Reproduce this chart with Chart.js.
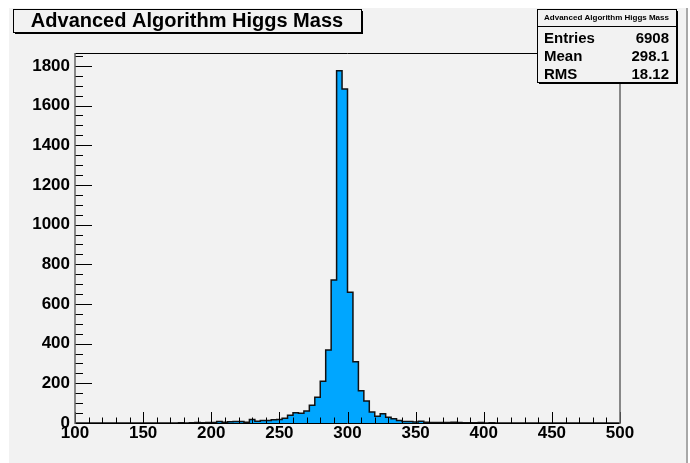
<!DOCTYPE html>
<html>
<head>
<meta charset="utf-8">
<title>Advanced Algorithm Higgs Mass</title>
<script src="https://cdn.jsdelivr.net/npm/chart.js@4/dist/chart.umd.min.js"></script>
<style>
    body { margin: 0; background: #ffffff; }
    #wrap { width: 690px; height: 463px; }
</style>
</head>
<body>
<div id="wrap"><canvas id="higgsChart" width="690" height="463"></canvas></div>
<script>
// histogram: 100 bins of width 4 GeV from 100 to 500
const histTitle = 'Advanced Algorithm Higgs Mass';
const xMin = 100;
const xMax = 500;
const binWidth = 4;
const counts = [
    0, 0, 0, 0, 0, 0, 0, 0, 0, 0,
    0, 0, 0, 0, 0, 0, 0, 0, 0, 0,
    1, 0, 1, 2, 1, 2, 3, 8, 4, 6,
    7, 7, 4, 18, 9, 13, 13, 17, 18, 24,
    39, 52, 49, 60, 90, 130, 210, 368, 721, 1775,
    1683, 659, 309, 163, 111, 56, 34, 47, 29, 21,
    13, 8, 8, 5, 9, 4, 3, 2, 2, 3,
    4, 3, 1, 1, 1, 2, 0, 1, 0, 0,
    0, 0, 0, 0, 0, 0, 0, 0, 0, 0,
    0, 0, 0, 0, 0, 0, 0, 0, 0, 0
];
const xTicks = [100, 150, 200, 250, 300, 350, 400, 450, 500];
const yTicks = [0, 200, 400, 600, 800, 1000, 1200, 1400, 1600, 1800];
const yMax = 1865;
const statNames = ['Entries', 'Mean', 'RMS'];
const statValues = ['6908', '298.1', '18.12'];

const FONT = '"Liberation Sans", Arial, Helvetica, sans-serif';

// step outline: one point per lower bin edge, plus the closing edge
const histPoints = counts.map((c, i) => ({ x: xMin + i * binWidth, y: c }));
histPoints.push({ x: xMax, y: counts[counts.length - 1] });

const padPlugin = {
    id: 'pad',
    beforeDraw(chart) {
        const ctx = chart.ctx;
        ctx.save();
        ctx.fillStyle = '#f2f2f2';
        ctx.fillRect(9, 8, 678, 455);
        ctx.strokeStyle = '#a8a8a8';
        ctx.lineWidth = 2;
        ctx.beginPath();
        ctx.moveTo(687, 8);
        ctx.lineTo(687, 463);
        ctx.stroke();
        ctx.restore();
    }
};

// ROOT style frame with ticks on the inside
const framePlugin = {
    id: 'frame',
    afterDatasetsDraw(chart) {
        const ctx = chart.ctx;
        const a = chart.chartArea;
        const xs = chart.scales.x;
        const ys = chart.scales.y;
        ctx.save();
        ctx.lineWidth = 1;
        ctx.strokeStyle = '#000';
        ctx.beginPath();
        for (let v = xMin; v <= xMax; v += 10) {
            const px = Math.round(xs.getPixelForValue(v)) + 0.5;
            const len = (v % 50 === 0) ? 11 : 5.5;
            ctx.moveTo(px, a.bottom);
            ctx.lineTo(px, a.bottom - len);
        }
        for (let v = 0; v <= 1850; v += 50) {
            const py = Math.round(ys.getPixelForValue(v)) + 0.5;
            const len = (v % 200 === 0) ? 17 : 8;
            ctx.moveTo(a.left, py);
            ctx.lineTo(a.left + len, py);
        }
        ctx.stroke();

        ctx.beginPath();
        ctx.moveTo(a.left, Math.round(a.top) + 0.5);
        ctx.lineTo(a.right, Math.round(a.top) + 0.5);
        ctx.moveTo(a.left, Math.round(a.bottom) + 0.5);
        ctx.lineTo(a.right, Math.round(a.bottom) + 0.5);
        ctx.stroke();

        ctx.strokeStyle = '#666';
        ctx.lineWidth = 1.5;
        ctx.beginPath();
        ctx.moveTo(a.left, a.top);
        ctx.lineTo(a.left, a.bottom + 1);
        ctx.moveTo(a.right, a.top);
        ctx.lineTo(a.right, a.bottom + 1);
        ctx.stroke();
        ctx.restore();
    }
};

function shadowBox(ctx, x, y, w, h) {
    ctx.fillStyle = '#000';
    ctx.fillRect(x + 2, y + 2, w, h);
    ctx.fillStyle = '#f2f2f2';
    ctx.fillRect(x, y, w, h);
    ctx.strokeStyle = '#000';
    ctx.lineWidth = 1;
    ctx.strokeRect(x + 0.5, y + 0.5, w, h);
    ctx.fillStyle = '#000';
}

const boxesPlugin = {
    id: 'boxes',
    afterDraw(chart) {
        const ctx = chart.ctx;
        ctx.save();
        // title box
        shadowBox(ctx, 13, 9, 348, 23);
        ctx.font = 'bold 20px ' + FONT;
        ctx.textAlign = 'center';
        ctx.textBaseline = 'middle';
        ctx.fillText(histTitle, 187, 21.5);

        // stats box
        shadowBox(ctx, 537, 9, 139, 73);
        ctx.beginPath();
        ctx.moveTo(537, 26.5);
        ctx.lineTo(676, 26.5);
        ctx.stroke();
        ctx.font = 'bold 8px ' + FONT;
        ctx.fillText(histTitle, 606.5, 17.5);
        ctx.font = 'bold 15px ' + FONT;
        statNames.forEach((name, i) => {
            const y = 38.5 + i * 18;
            ctx.textAlign = 'left';
            ctx.fillText(name, 544, y);
            ctx.textAlign = 'right';
            ctx.fillText(statValues[i], 669, y);
        });
        ctx.restore();
    }
};

const ctx = document.getElementById('higgsChart').getContext('2d');
new Chart(ctx, {
    type: 'line',
    data: {
        datasets: [{
            label: histTitle,
            data: histPoints,
            stepped: 'after',
            fill: 'origin',
            backgroundColor: '#00a6ff',
            borderColor: '#111',
            borderWidth: 1.5,
            pointRadius: 0
        }]
    },
    options: {
        responsive: false,
        animation: false,
        layout: { padding: { left: 0, top: 53, right: 70, bottom: 0 } },
        plugins: {
            legend: { display: false },
            tooltip: { enabled: false }
        },
        scales: {
            x: {
                type: 'linear',
                min: xMin,
                max: xMax,
                grid: { display: false, drawTicks: false },
                border: { display: false },
                afterBuildTicks: (scale) => { scale.ticks = xTicks.map(v => ({ value: v })); },
                afterFit: (scale) => { scale.height = 40; },
                ticks: {
                    maxRotation: 0,
                    autoSkip: false,
                    padding: 0,
                    color: '#000',
                    callback: (v) => String(v),
                    font: { family: FONT, size: 17, weight: 'bold' }
                }
            },
            y: {
                min: 0,
                max: yMax,
                grid: { display: false, drawTicks: false },
                border: { display: false },
                afterBuildTicks: (scale) => { scale.ticks = yTicks.map(v => ({ value: v })); },
                afterFit: (scale) => { scale.width = 75; },
                ticks: {
                    padding: 5,
                    color: '#000',
                    callback: (v) => String(v),
                    font: { family: FONT, size: 17, weight: 'bold' }
                }
            }
        }
    },
    plugins: [padPlugin, framePlugin, boxesPlugin]
});
</script>
</body>
</html>
